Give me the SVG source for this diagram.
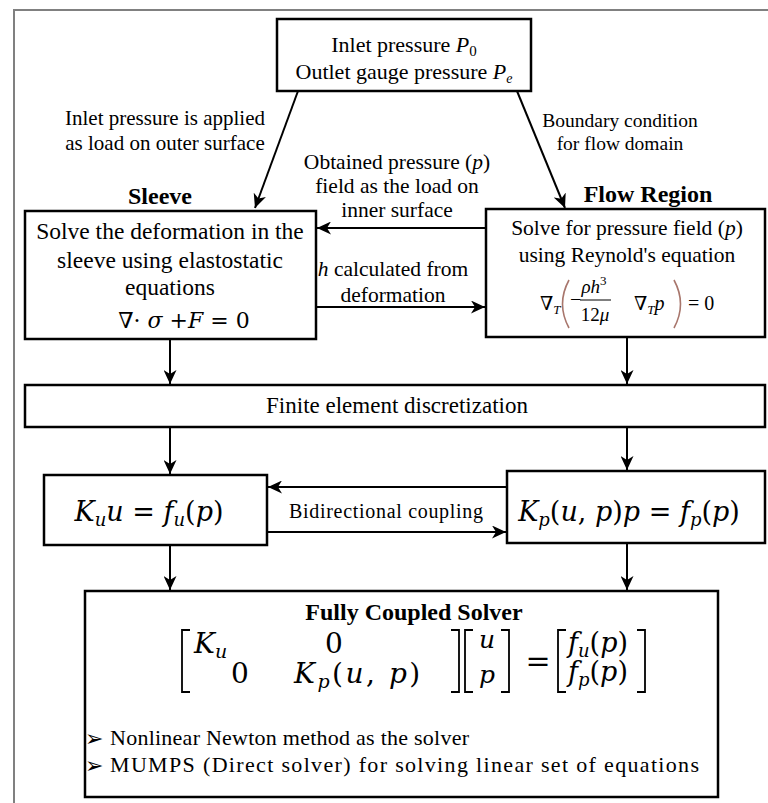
<svg xmlns="http://www.w3.org/2000/svg" width="768" height="803" viewBox="0 0 768 803">
<defs>
<marker id="ah" markerUnits="userSpaceOnUse" markerWidth="15" markerHeight="13" refX="14" refY="6.5" orient="auto">
<path d="M0,0 L14,6.5 L0,13 L4,6.5 z" fill="#000"/>
</marker>
</defs>
<style>
.box{fill:#fff;stroke:#000;stroke-width:2.5}
.b{font-weight:bold;font-size:24px}
.i{font-style:italic}
.c{text-anchor:middle}
.mt{font-family:"DejaVu Serif","Liberation Serif",serif}
.conn line{stroke:#000;stroke-width:2;marker-end:url(#ah)}
.br{fill:none;stroke:#000;stroke-width:1.8}
</style>
<rect width="768" height="803" fill="#fff"/>
<path d="M14,803 V10 H768" fill="none" stroke="#808080" stroke-width="2"/>

<g font-family="Liberation Serif, Tinos, DejaVu Serif, serif" fill="#000">
<g id="inlet">
<rect class="box" x="277" y="19" width="254" height="72"/>
<text class="c" x="404" y="52" font-size="22">Inlet pressure <tspan class="i">P</tspan><tspan font-size="15" dy="4">0</tspan></text>
<text class="c" x="404" y="79" font-size="22">Outlet gauge  pressure <tspan class="i">P</tspan><tspan class="i" font-size="14" dy="4">e</tspan></text>
</g>

<g id="labels">
<text class="c" font-size="21" x="165" y="125">Inlet  pressure is applied</text>
<text class="c" font-size="21" x="165" y="150">as load on outer surface</text>
<text class="c" font-size="19.5" x="620" y="127">Boundary condition</text>
<text class="c" font-size="19.5" x="620" y="150">for flow domain</text>
<text class="c" font-size="21.5" x="397" y="169">Obtained pressure (<tspan class="i">p</tspan>)</text>
<text class="c" font-size="21.5" x="397" y="193">field  as the load on</text>
<text class="c" font-size="21.5" x="397" y="217">inner  surface</text>
<text class="c" font-size="21.5" x="393" y="276"><tspan class="i">h</tspan> calculated  from</text>
<text class="c" font-size="21.5" x="393" y="302">deformation</text>
</g>

<g id="sleeve">
<text class="b c" x="160" y="204">Sleeve</text>
<rect class="box" x="25" y="211" width="291" height="128"/>
<text class="c" font-size="23.5" x="170" y="239">Solve the deformation in the</text>
<text class="c" font-size="23.5" x="170" y="268">sleeve using elastostatic</text>
<text class="c" font-size="23.5" x="170" y="295">equations</text>
<text class="c mt" font-size="22" x="184" y="328">∇· <tspan class="i">σ</tspan> +<tspan class="i">F</tspan> = 0</text>
</g>

<g id="flow">
<text class="b c" x="648" y="202">Flow Region</text>
<rect class="box" x="486" y="209" width="279" height="128"/>
<text class="c" font-size="21.5" x="627" y="235">Solve for pressure field (<tspan class="i">p</tspan>)</text>
<text class="c" font-size="21.5" x="627" y="262">using Reynold's equation</text>
<text font-size="19" x="540" y="310">∇<tspan class="i" font-size="13" dy="4">T</tspan></text>
<path d="M569,280 Q556,304 569,328" fill="none" stroke="#a8766c" stroke-width="1.6"/>
<text font-size="20" x="570" y="306">−</text>
<text class="c" font-size="19" x="594" y="293"><tspan class="i">ρh</tspan><tspan font-size="13" dy="-8">3</tspan></text>
<line x1="580" y1="300" x2="611" y2="300" stroke="#000" stroke-width="1"/>
<text class="c" font-size="19" x="595" y="321">12<tspan class="i">μ</tspan></text>
<text font-size="19" x="634" y="310">∇<tspan class="i" font-size="13" dy="4">T</tspan><tspan class="i" font-size="20" dy="-4">p</tspan></text>
<path d="M674,280 Q687,304 674,328" fill="none" stroke="#a8766c" stroke-width="1.6"/>
<text font-size="20" x="688" y="310">= 0</text>
</g>

<g id="fem">
<rect class="box" x="25" y="385" width="740" height="42"/>
<text class="c" font-size="23" x="397" y="413">Finite element discretization</text>
</g>

<g id="ku">
<rect class="box" x="44" y="475" width="223" height="70"/>
<text class="c mt" font-size="27" x="149" y="521"><tspan class="i">K</tspan><tspan class="i" font-size="18" dy="5">u</tspan><tspan class="i" dy="-5">u</tspan> = <tspan class="i">f</tspan><tspan class="i" font-size="18" dy="5">u</tspan><tspan dy="-5">(</tspan><tspan class="i">p</tspan>)</text>
</g>

<g id="kp">
<rect class="box" x="507" y="471" width="258" height="72"/>
<text class="c mt" font-size="27" x="629" y="521"><tspan class="i">K</tspan><tspan class="i" font-size="18" dy="5">p</tspan><tspan dy="-5">(</tspan><tspan class="i">u</tspan>, <tspan class="i">p</tspan>)<tspan class="i">p</tspan> = <tspan class="i">f</tspan><tspan class="i" font-size="18" dy="5">p</tspan><tspan dy="-5">(</tspan><tspan class="i">p</tspan>)</text>
</g>

<text class="c" font-size="20" x="386" y="518" textLength="194">Bidirectional  coupling</text>

<g id="solver">
<rect class="box" x="85" y="591" width="633" height="206"/>
<text class="b c" x="414" y="620">Fully Coupled Solver</text>
<path class="br" d="M190,630 H182 V692 H190"/>
<path class="br" d="M451,630 H459 V692 H451"/>
<text class="mt" font-size="28" x="194" y="653"><tspan class="i">K</tspan><tspan class="i" font-size="19" dy="5">u</tspan></text>
<text class="c mt" font-size="28" x="334" y="653">0</text>
<text class="c mt" font-size="28" x="240" y="683">0</text>
<text class="mt" font-size="28" x="294" y="683" letter-spacing="2.5"><tspan class="i">K</tspan><tspan class="i" font-size="19" dy="5">p</tspan><tspan dy="-5">(</tspan><tspan class="i">u</tspan>, <tspan class="i">p</tspan>)</text>
<path class="br" d="M473,630 H465 V692 H473"/>
<path class="br" d="M501,630 H509 V692 H501"/>
<text class="c i mt" font-size="25" x="487" y="648">u</text>
<text class="c i mt" font-size="25" x="487" y="683">p</text>
<text class="c mt" font-size="30" x="538" y="671">=</text>
<path class="br" d="M566,630 H558 V692 H566"/>
<path class="br" d="M637,630 H645 V692 H637"/>
<text class="mt" font-size="27" x="568" y="652"><tspan class="i">f</tspan><tspan class="i" font-size="18" dy="5">u</tspan><tspan dy="-5">(</tspan><tspan class="i">p</tspan>)</text>
<text class="mt" font-size="27" x="568" y="681"><tspan class="i">f</tspan><tspan class="i" font-size="18" dy="5">p</tspan><tspan dy="-5">(</tspan><tspan class="i">p</tspan>)</text>
<text font-family="DejaVu Sans, sans-serif" font-size="22" x="85" y="746">➢</text>
<text font-family="DejaVu Sans, sans-serif" font-size="22" x="85" y="773">➢</text>
<text font-size="22" x="110" y="745" textLength="359">Nonlinear Newton method as the solver</text>
<text font-size="22" x="110" y="772" textLength="589">MUMPS (Direct solver) for solving linear set of equations</text>
</g>
</g>

<g id="connectors" class="conn">
<line x1="298" y1="91" x2="255" y2="208"/>
<line x1="517" y1="91" x2="565" y2="208"/>
<line x1="486" y1="228" x2="317" y2="228"/>
<line x1="316" y1="307" x2="485" y2="307"/>
<line x1="170" y1="339" x2="170" y2="384"/>
<line x1="627" y1="337" x2="627" y2="384"/>
<line x1="170" y1="427" x2="170" y2="474"/>
<line x1="627" y1="427" x2="627" y2="470"/>
<line x1="507" y1="487" x2="268" y2="487"/>
<line x1="267" y1="532" x2="506" y2="532"/>
<line x1="170" y1="545" x2="170" y2="590"/>
<line x1="627" y1="543" x2="627" y2="590"/>
</g>
</svg>
